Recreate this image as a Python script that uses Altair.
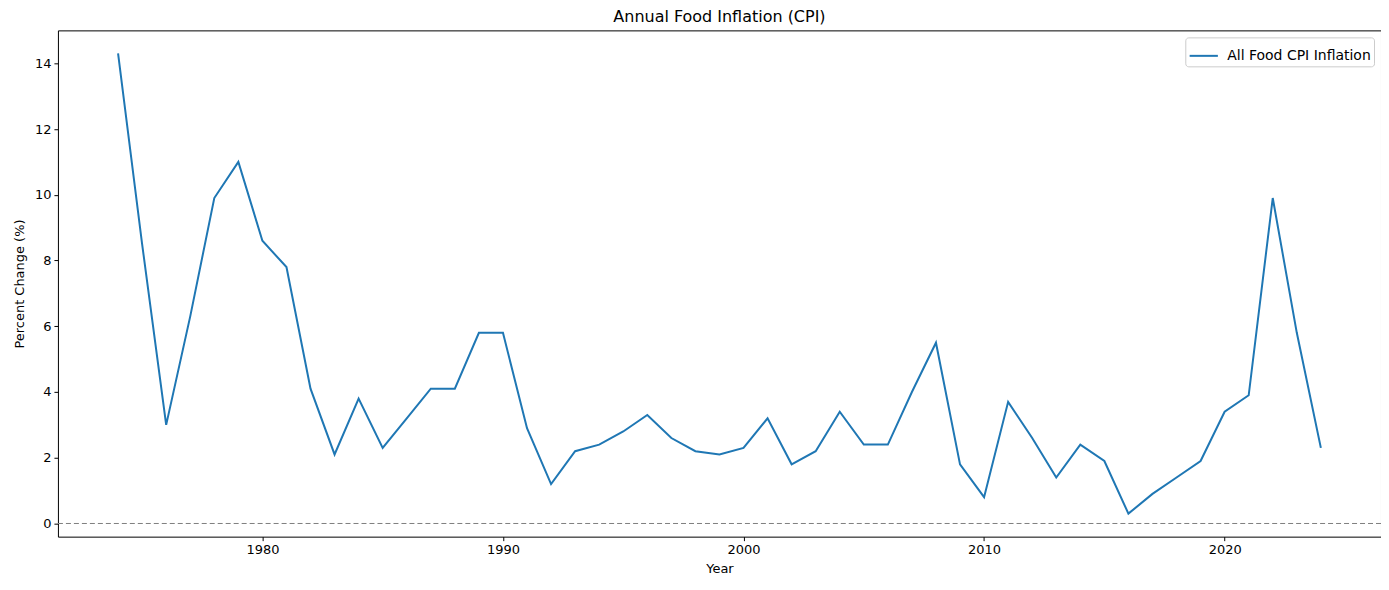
import altair as alt
import pandas as pd

years = list(range(1974, 2025))
inflation = [14.3, 8.5, 3.0, 6.3, 9.9, 11.0, 8.6, 7.8, 4.1, 2.1,
             3.8, 2.3, 3.2, 4.1, 4.1, 5.8, 5.8, 2.9, 1.2, 2.2,
             2.4, 2.8, 3.3, 2.6, 2.2, 2.1, 2.3, 3.2, 1.8, 2.2,
             3.4, 2.4, 2.4, 4.0, 5.5, 1.8, 0.8, 3.7, 2.6, 1.4,
             2.4, 1.9, 0.3, 0.9, 1.4, 1.9, 3.4, 3.9, 9.9, 5.8, 2.3]
series_name = "All Food CPI Inflation"

df = pd.DataFrame({"Year": years, "Inflation": inflation, "Series": series_name})

FONT = "DejaVu Sans"

xscale = alt.Scale(domain=[1971.5, 2026.5], nice=False, zero=False)
yscale = alt.Scale(domain=[-0.4, 15.0], nice=False, zero=False)

line = alt.Chart(df).mark_line(strokeWidth=2, clip=True).encode(
    x=alt.X("Year:Q", scale=xscale,
            axis=alt.Axis(title="Year", values=[1980, 1990, 2000, 2010, 2020], format="d",
                          grid=False, tickSize=4, labelPadding=3, titlePadding=6)),
    y=alt.Y("Inflation:Q", scale=yscale,
            axis=alt.Axis(title="Percent Change (%)", values=[0, 2, 4, 6, 8, 10, 12, 14],
                          grid=False, tickSize=4, labelPadding=3, titlePadding=8)),
    color=alt.Color("Series:N", scale=alt.Scale(range=["#1f77b4"]),
                    legend=alt.Legend(title=None, orient="top-right", symbolType="stroke",
                                      symbolStrokeWidth=2, symbolSize=800,
                                      strokeColor="#cccccc", fillColor="white",
                                      padding=3, cornerRadius=3, offset=7,
                                      labelFontSize=14, labelFont=FONT, labelColor="black",
                                      labelOffset=8)),
)

zero = alt.Chart(pd.DataFrame({"y": [0]})).mark_rule(
    color="gray", strokeDash=[5, 3], strokeWidth=1
).encode(y=alt.Y("y:Q", scale=yscale))

chart = alt.layer(zero, line).properties(
    width=1325, height=507,
    title=alt.TitleParams("Annual Food Inflation (CPI)", font=FONT, fontSize=16,
                          fontWeight="normal", color="black", offset=5),
    autosize=alt.AutoSizeParams(type="none"),
    padding={"left": 50, "top": 22, "right": 0, "bottom": 45},
).configure_view(stroke="black", strokeWidth=1).configure_axis(
    labelFont=FONT, titleFont=FONT, labelFontSize=13, titleFontSize=13,
    labelColor="black", titleColor="black", titleFontWeight="normal",
    domain=False, tickColor="black",
)

chart.save("out.html", embed_options={"renderer": "svg", "actions": False})
